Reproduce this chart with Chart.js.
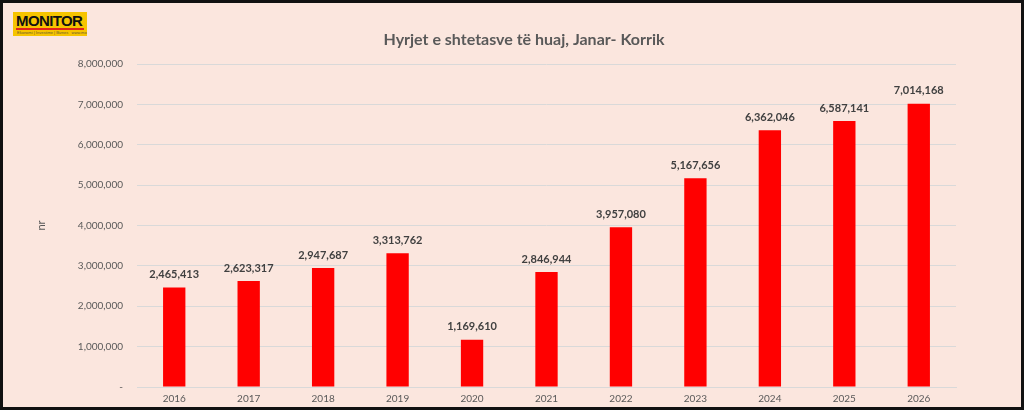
<!DOCTYPE html>
<html>
<head>
<meta charset="utf-8">
<script src="https://cdn.jsdelivr.net/npm/chart.js@4"></script>
<style>
  html, body { margin: 0; padding: 0; background: #fff; }
  #frame {
    position: relative; width: 1024px; height: 410px; box-sizing: border-box;
    border: 3px solid #111; background: #fbe6de;
  }
  #wrap { position: absolute; left: 0; top: 0; width: 1018px; height: 404px; }
  #logo {
    position: absolute; left: 10px; top: 9px; width: 74px; height: 24px; overflow: hidden;
    background: #f6c400; font-family: "Liberation Sans", Arial, sans-serif;
  }
  #logo .name {
    position: absolute; left: 3px; top: 1px; font-size: 15px; font-weight: 900;
    letter-spacing: -0.6px; color: #111; line-height: 15px;
  }
  #logo .bar { position: absolute; left: 3px; top: 16px; width: 68px; height: 1.5px; background: #e2231a; }
  #logo .sub {
    position: absolute; left: 4px; top: 18px; font-size: 4px; color: #6a5a30; white-space: nowrap; line-height: 5px;
  }
</style>
</head>
<body>
<div id="frame">
  <div id="wrap"><canvas id="myChart"></canvas></div>
  <div id="logo"><div class="name">MONITOR</div><div class="bar"></div><div class="sub">Ekonomi | Investime | Biznes &nbsp; www.monitor.al</div></div>
</div>
<script>
const years = ['2016', '2017', '2018', '2019', '2020', '2021', '2022', '2023', '2024', '2025', '2026'];
const arrivals = [2465413, 2623317, 2947687, 3313762, 1169610, 2846944, 3957080, 5167656, 6362046, 6587141, 7014168];
const chartTitle = 'Hyrjet e shtetasve të huaj, Janar- Korrik';
const yTitle = 'nr';

const ctx = document.getElementById('myChart');

// title centred on the whole frame, values above every bar
const barLabels = {
    id: 'barLabels',
    afterDraw(chart) {
        const c = chart.ctx;
        c.save();
        c.textAlign = 'center';
        c.textBaseline = 'middle';
        c.font = 'bold 16px Lato';
        c.fillStyle = '#595959';
        c.fillText(chartTitle, 521, 37);
        c.font = 'bold 11px Lato';
        c.fillStyle = '#404040';
        chart.getDatasetMeta(0).data.forEach((bar, i) => {
            c.fillText(arrivals[i].toLocaleString('en-US'), bar.x, bar.y - 13);
        });
        c.restore();
    }
};

new Chart(ctx, {
    type: 'bar',
    data: {
        labels: years,
        datasets: [{
            label: 'Hyrjet',
            data: arrivals,
            backgroundColor: '#ff0000',
            barPercentage: 0.3,
            categoryPercentage: 1
        }]
    },
    options: {
        responsive: true,
        maintainAspectRatio: false,
        animation: false,
        layout: { padding: { left: 0, right: 65, top: 61, bottom: 0 } },
        plugins: {
            legend: { display: false },
            tooltip: { enabled: false },
            title: { display: false }
        },
        scales: {
            x: {
                grid: { display: false, drawTicks: false },
                border: { color: '#d9d9d9' },
                ticks: { color: '#595959', font: { family: 'Lato', size: 10 }, padding: 6 },
                afterFit(scale) { scale.height = 19; }
            },
            y: {
                min: 0,
                max: 8000000,
                grid: { color: '#d9d9d9', drawTicks: false },
                border: { display: false },
                ticks: {
                    stepSize: 1000000,
                    color: '#595959',
                    font: { family: 'Lato', size: 10 },
                    padding: 14,
                    callback: v => v === 0 ? '-' : v.toLocaleString('en-US')
                },
                title: {
                    display: true,
                    text: yTitle,
                    color: '#595959',
                    font: { family: 'Lato', size: 11 },
                    padding: { top: 32, bottom: 0 }
                },
                afterFit(scale) { scale.width = 134; }
            }
        }
    },
    plugins: [barLabels]
});
</script>
</body>
</html>
